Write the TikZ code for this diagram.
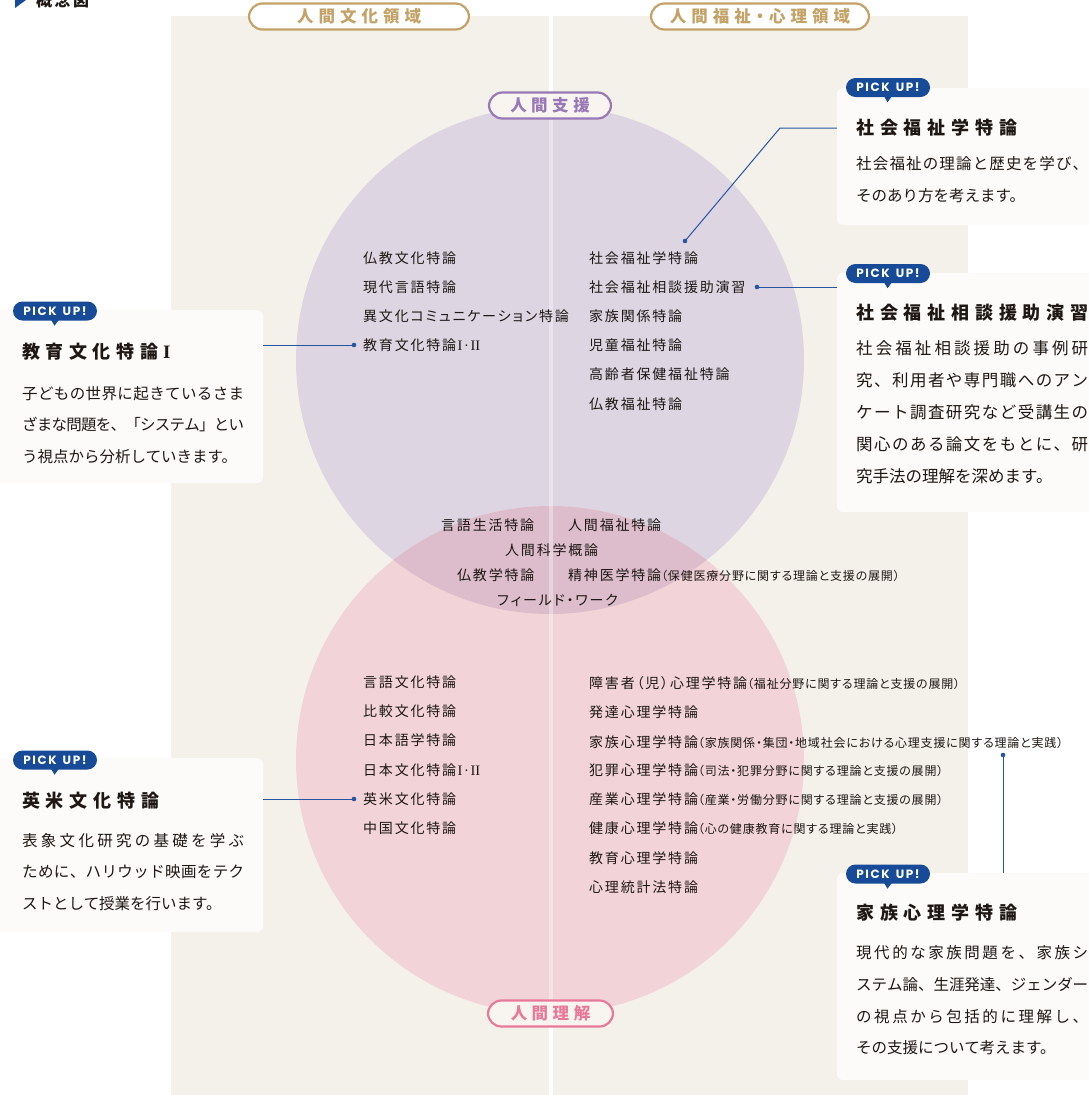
\documentclass[tikz,border=0pt]{standalone}
\usepackage{fontspec}
\setmainfont{Noto Sans CJK JP}
\newfontfamily\jpp{Noto Sans CJK JP}[RawFeature=+palt]
\newfontfamily\popp{Poppins}
\newfontfamily\lib{Liberation Serif}
\usetikzlibrary{calc}
\definecolor{beige}{HTML}{F4F1EA}
\definecolor{lav}{HTML}{DDD5E2}
\definecolor{rosec}{HTML}{F2D4D8}
\definecolor{mauve}{HTML}{DDBDCC}
\definecolor{ink}{HTML}{1E1714}
\definecolor{gold}{HTML}{C4A266}
\definecolor{purp}{HTML}{9878B6}
\definecolor{pinkc}{HTML}{E9799A}
\definecolor{bblue}{HTML}{174B97}
\definecolor{cblue}{HTML}{2656A2}
\definecolor{cardw}{HTML}{FCFBF9}
\definecolor{pillf}{HTML}{F8F5F1}

\newcommand\jgap{\hskip 0pt plus 1fil minus 1pt\relax}
\ExplSyntaxOn
\NewDocumentCommand\spc{O{0pt}m}{\tl_map_inline:nn{#2}{##1\kern#1\relax}\unkern}
\NewDocumentCommand\jst{mm}{\makebox[#1][s]{\tl_map_inline:nn{#2}{##1\jgap}\unskip}}
\ExplSyntaxOff
\newcommand\lt[2]{{\jpp\fontsize{14}{14}\selectfont\spc[1.8pt]{#1}}{\jpp\fontsize{12}{12}\selectfont\spc[0.8pt]{#2}}}
\newcommand\rn{{\lib\fontsize{14.5}{14}\selectfont\kern1.5pt I\kern1.6pt·\kern1.6pt II}}
\newcommand\pick{\spc[1.6pt]{PICK}\hspace{6pt}\spc[1.6pt]{UP!}}

\tikzset{
  txt/.style={inner sep=0pt, anchor=west, text=ink},
  lst/.style={txt, text height=12.3pt, text depth=1.7pt},
  bod/.style={txt, text height=13.6pt, text depth=1.9pt, font=\fontsize{15.5}{15.5}\selectfont},
  bodb/.style={txt, text height=14.5pt, text depth=2pt, font=\fontsize{16.5}{16.5}\selectfont},
  ttl/.style={txt, text height=15.8pt, text depth=2.2pt, font=\bfseries\fontsize{18}{18}\selectfont},
  card/.style={fill=cardw, rounded corners=6pt, inner sep=0pt, minimum width=273pt},
  badge/.style={fill=bblue, rounded corners=9.5pt, minimum width=84pt, minimum height=19pt, inner sep=0pt, text=white, font=\popp\bfseries\fontsize{12}{12}\selectfont},
  pill/.style={line width=2.2pt, rounded corners=13.5pt, minimum height=26pt, inner sep=0pt, text height=14.5pt, text depth=2pt, font=\jpp\bfseries\fontsize{16.5}{16.5}\selectfont},
  conn/.style={cblue, line width=1pt},
}

\begin{document}
\begin{tikzpicture}[x=1pt,y=-1pt]
\useasboundingbox (0,0) rectangle (1088,1095);
% panels
\fill[beige] (171,16) rectangle (549,1095);
\fill[beige] (553,16) rectangle (968,1095);
% circles
\fill[lav] (550,360) circle (254pt);
\fill[rosec] (550,760) circle (254pt);
\begin{scope}
  \clip (550,360) circle (254pt);
  \fill[mauve] (550,760) circle (254pt);
\end{scope}
\fill[white, opacity=0.35] (549,16) rectangle (553,1095);

% title top-left
\fill[bblue] (15,-8) -- (26,0) -- (15,8) -- cycle;
\node[txt, text height=14pt, text depth=2pt, font=\bfseries\fontsize{16}{16}\selectfont] (t0) at (36,0.5) {\spc[2.5pt]{概念図}};

% headers
\node[pill, draw=gold, fill=white, text=gold, minimum width=220pt] (h1) at (359,16.5) {\spc[5pt]{人間文化領域}};
\node[pill, draw=gold, fill=white, text=gold, minimum width=218pt] (h2) at (760,16.5) {\spc[5pt]{人間福祉・心理領域}};
\node[pill, draw=purp, fill=pillf, text=purp, minimum width=122pt] (s1) at (550,105.5) {\spc[4.5pt]{人間支援}};
\node[pill, draw=pinkc, fill=pillf, text=pinkc, minimum width=125pt] (s2) at (550.5,1013.5) {\spc[4.5pt]{人間理解}};

% upper circle lists
\node[lst] (a1) at (363,258) {\lt{仏教文化特論}{}};
\node[lst] (a2) at (363,287) {\lt{現代言語特論}{}};
\node[lst] (a3) at (363,316) {\lt{異文化コミュニケーション特論}{}};
\node[lst] (a4) at (363,345) {\lt{教育文化特論}{}\rn};
\node[lst] (b1) at (589,258) {\lt{社会福祉学特論}{}};
\node[lst] (b2) at (589,287) {\lt{社会福祉相談援助演習}{}};
\node[lst] (b3) at (589,316) {\lt{家族関係特論}{}};
\node[lst] (b4) at (589,345) {\lt{児童福祉特論}{}};
\node[lst] (b5) at (589,374) {\lt{高齢者保健福祉特論}{}};
\node[lst] (b6) at (589,404) {\lt{仏教福祉特論}{}};

% overlap
\node[lst] (m1) at (441,525) {\lt{言語生活特論}{}};
\node[lst] (m2) at (568,525) {\lt{人間福祉特論}{}};
\node[lst] (m3) at (505,550) {\lt{人間科学概論}{}};
\node[lst] (m4) at (457,575) {\lt{仏教学特論}{}};
\node[lst] (m5) at (568,575) {\lt{精神医学特論}{（保健医療分野に関する理論と支援の展開）}};
\node[lst] (m6) at (497,600) {\lt{フィールド・ワーク}{}};

% lower circle lists
\node[lst] (p1) at (363,682) {\lt{言語文化特論}{}};
\node[lst] (p2) at (363,711) {\lt{比較文化特論}{}};
\node[lst] (p3) at (363,740) {\lt{日本語学特論}{}};
\node[lst] (p4) at (363,770) {\lt{日本文化特論}{}\rn};
\node[lst] (p5) at (363,799) {\lt{英米文化特論}{}};
\node[lst] (p6) at (363,828) {\lt{中国文化特論}{}};
\node[lst] (q1) at (589,683) {\lt{障害者（児）心理学特論}{（福祉分野に関する理論と支援の展開）}};
\node[lst] (q2) at (589,712) {\lt{発達心理学特論}{}};
\node[lst] (q3) at (589,742) {\lt{家族心理学特論}{（家族関係・集団・地域社会における心理支援に関する理論と実践）}};
\node[lst] (q4) at (589,770) {\lt{犯罪心理学特論}{（司法・犯罪分野に関する理論と支援の展開）}};
\node[lst] (q5) at (589,799) {\lt{産業心理学特論}{（産業・労働分野に関する理論と支援の展開）}};
\node[lst] (q6) at (589,828) {\lt{健康心理学特論}{（心の健康教育に関する理論と実践）}};
\node[lst] (q7) at (589,858) {\lt{教育心理学特論}{}};
\node[lst] (q8) at (589,887) {\lt{心理統計法特論}{}};

% cards
\node[card, minimum height=137pt] (c1) at (973.5,156.5) {};
\node[card, minimum height=239pt] (c2) at (973.5,392.5) {};
\node[card, minimum height=173pt] (c3) at (126.5,396.5) {};
\node[card, minimum height=174pt] (c4) at (126.5,845) {};
\node[card, minimum height=207pt] (c5) at (973.5,976.5) {};

% card 1
\node[ttl] (c1t) at (856,128) {\spc[5.8pt]{社会福祉学特論}};
\node[bod] (c1a) at (856,164) {\jst{232pt}{社会福祉の理論と歴史を学び、}};
\node[bod] (c1b) at (856,196) {そのあり方を考えます。};
% card 2
\node[ttl] (c2t) at (856,313) {\spc[5.8pt]{社会福祉相談援助演習}};
\node[bodb] (c2a) at (856,348) {\jst{232pt}{社会福祉相談援助の事例研}};
\node[bodb] (c2b) at (856,380) {\jst{232pt}{究、利用者や専門職へのアン}};
\node[bodb] (c2c) at (856,412) {\jst{232pt}{ケート調査研究など受講生の}};
\node[bodb] (c2d) at (856,444) {\jst{232pt}{関心のある論文をもとに、研}};
\node[bodb] (c2e) at (856,476) {究手法の理解を深めます。};
% card 3
\node[ttl] (c3t) at (22,352) {\spc[5.6pt]{教育文化特論}{\lib\bfseries\fontsize{19}{19}\selectfont\kern5pt I}};
\node[bod] (c3a) at (22,394) {\jst{222pt}{子どもの世界に起きているさま}};
\node[bod] (c3b) at (22,425) {\jst{222pt}{ざまな問題を、「システム」とい}};
\node[bod] (c3c) at (22,457) {う視点から分析していきます。};
% card 4
\node[ttl] (c4t) at (22,801) {\spc[5.8pt]{英米文化特論}};
\node[bod] (c4a) at (22,841) {\jst{222pt}{表象文化研究の基礎を学ぶ}};
\node[bod] (c4b) at (22,872) {\jst{222pt}{ために、ハリウッド映画をテク}};
\node[bod] (c4c) at (22,904) {ストとして授業を行います。};
% card 5
\node[ttl] (c5t) at (856,913) {\spc[5.8pt]{家族心理学特論}};
\node[bod] (c5a) at (856,953) {\jst{232pt}{現代的な家族問題を、家族シ}};
\node[bod] (c5b) at (856,985) {\jst{232pt}{ステム論、生涯発達、ジェンダー}};
\node[bod] (c5c) at (856,1017) {\jst{232pt}{の視点から包括的に理解し、}};
\node[bod] (c5d) at (856,1048) {その支援について考えます。};

% connectors
\coordinate (d1) at (685,241);
\coordinate (k1) at (780,128);
\coordinate (d2) at (757,287);
\coordinate (d3) at (354,345);
\coordinate (d4) at (354,799);
\coordinate (d5) at (1003,755);
\draw[conn] (d1) -- (k1) -- (k1 -| c1.west);
\draw[conn] (d2) -- (d2 -| c2.west);
\draw[conn] (d3) -- (d3 -| c3.east);
\draw[conn] (d4) -- (d4 -| c4.east);
\draw[conn] (d5) -- (d5 |- c5.north);
\foreach \d in {d1,d2,d3,d4,d5} \fill[cblue] (\d) circle (2.3pt);

% badges
\foreach \n/\x/\y in {g1/888/87.5, g2/888/273.5, g3/55/311, g4/55/760, g5/888/874}{
  \node[badge] (\n) at (\x,\y) {\pick};
  \fill[bblue] ($(\n.south)+(-4,-1)$) -- ($(\n.south)+(4,-1)$) -- ($(\n.south)+(-0.5,5)$) -- cycle;
}
\end{tikzpicture}
\end{document}
